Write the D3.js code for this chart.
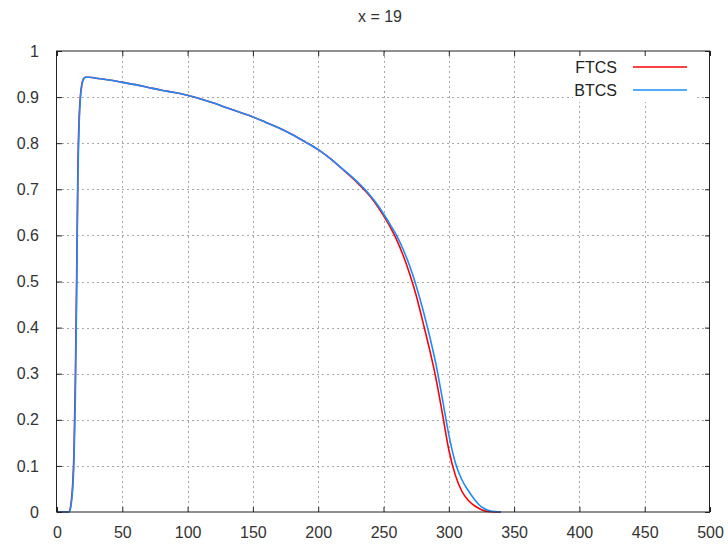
<!DOCTYPE html>
<html>
<head>
<meta charset="utf-8">
<script src="https://cdn.jsdelivr.net/npm/d3@7"></script>
<style>
  html, body { margin: 0; padding: 0; background: #fff; }
  svg { display: block; font-family: "Liberation Sans", Arial, sans-serif; }
</style>
</head>
<body>
<svg id="chart" width="728" height="544"></svg>
<script>
// Temperature profile at x = 19 for the two finite-difference schemes
const xValues = [0, 9, 10, 11, 12, 13, 14, 15, 16, 17, 18, 19, 20, 21, 22, 25, 30, 40, 50,
  60, 70, 80, 90, 100, 110, 120, 130, 140, 150, 160, 170, 180, 190, 200, 210, 220,
  230, 240, 245, 250, 255, 260, 265, 270, 275, 280, 285, 290, 295, 300, 305, 310,
  315, 320, 325, 330, 335, 340];

const ftcsValues = [0, 0, 0.006, 0.025, 0.06, 0.13, 0.28, 0.5, 0.75, 0.86, 0.905, 0.928, 0.938, 0.942, 0.943, 0.943, 0.941, 0.937, 0.932,
  0.927, 0.921, 0.915, 0.910, 0.904, 0.896, 0.887, 0.877, 0.867, 0.857, 0.845, 0.833, 0.819, 0.803, 0.786, 0.765, 0.740,
  0.714, 0.684, 0.665, 0.643, 0.619, 0.591, 0.557, 0.517, 0.470, 0.414, 0.356, 0.292, 0.215, 0.135, 0.080, 0.045,
  0.025, 0.013, 0.005, 0.001, 0, 0];

const btcsValues = [0, 0, 0.004, 0.02, 0.05, 0.11, 0.24, 0.46, 0.72, 0.845, 0.9, 0.925, 0.937, 0.942, 0.943, 0.943, 0.941, 0.937, 0.932,
  0.927, 0.921, 0.915, 0.910, 0.904, 0.896, 0.887, 0.877, 0.867, 0.857, 0.845, 0.833, 0.819, 0.803, 0.786, 0.765, 0.741,
  0.716, 0.686, 0.668, 0.647, 0.624, 0.600, 0.570, 0.534, 0.491, 0.441, 0.385, 0.323, 0.247, 0.168, 0.107, 0.070,
  0.046, 0.026, 0.011, 0.004, 0.001, 0];

const xTicks = [0, 50, 100, 150, 200, 250, 300, 350, 400, 450, 500];
const yTicks = [0, 0.1, 0.2, 0.3, 0.4, 0.5, 0.6, 0.7, 0.8, 0.9, 1];
const yTickLabels = ["0", "0.1", "0.2", "0.3", "0.4", "0.5", "0.6", "0.7", "0.8", "0.9", "1"];

const series = [
  { name: "FTCS", values: ftcsValues, color: "#ff0000" },
  { name: "BTCS", values: btcsValues, color: "#1a8cff" }
];

const svg = d3.select("#chart");
const plotLeft = 57, plotRight = 710, plotTop = 51, plotBottom = 512;

const x = d3.scaleLinear().domain([0, 500]).range([plotLeft, plotRight]);
const y = d3.scaleLinear().domain([0, 1]).range([plotBottom, plotTop]);

// Grid lines (dotted), skipping those that sit on the border
const grid = svg.append("g").attr("stroke", "#a8a8a8").attr("stroke-width", 1)
  .attr("stroke-dasharray", "2,3");
xTicks.filter(t => t > 0 && t < 500).forEach(t => {
  grid.append("line").attr("x1", Math.round(x(t)) + 0.5).attr("x2", Math.round(x(t)) + 0.5)
    .attr("y1", plotTop).attr("y2", plotBottom);
});
yTicks.filter(t => t > 0 && t < 1).forEach(t => {
  grid.append("line").attr("y1", Math.round(y(t)) + 0.5).attr("y2", Math.round(y(t)) + 0.5)
    .attr("x1", plotLeft).attr("x2", plotRight);
});

// Opaque key area
svg.append("rect").attr("x", 573).attr("y", plotTop + 1).attr("width", 124).attr("height", 50)
  .attr("fill", "#fff");

// Curves
const line = d3.line()
  .x((d, i) => x(xValues[i]))
  .y(d => y(d))
  .curve(d3.curveMonotoneX);

svg.append("g").selectAll("path").data(series).join("path")
  .attr("fill", "none")
  .attr("stroke", d => d.color)
  .attr("stroke-width", 1.6)
  .attr("stroke-linejoin", "round")
  .attr("d", d => line(d.values));

// Axes with inward ticks on all four sides
const tickLen = 5;
const bottomAxis = d3.axisBottom(x).tickValues(xTicks).tickSizeInner(-tickLen).tickSizeOuter(0).tickPadding(15);
const topAxis = d3.axisTop(x).tickValues(xTicks).tickSizeInner(-tickLen).tickSizeOuter(0).tickFormat("");
const leftAxis = d3.axisLeft(y).tickValues(yTicks).tickSizeInner(-tickLen).tickSizeOuter(0).tickPadding(18)
  .tickFormat((d, i) => yTickLabels[i]);
const rightAxis = d3.axisRight(y).tickValues(yTicks).tickSizeInner(-tickLen).tickSizeOuter(0).tickFormat("");

function styleAxis(g) {
  g.select(".domain").remove();
  g.selectAll(".tick line").attr("stroke", "#222");
  g.selectAll(".tick text").attr("fill", "#333").attr("font-size", 16)
    .attr("font-family", "'Liberation Sans', Arial, sans-serif");
}

svg.append("g").attr("transform", `translate(0,${plotBottom})`).call(bottomAxis).call(styleAxis);
svg.append("g").attr("transform", `translate(0,${plotTop})`).call(topAxis).call(styleAxis);
svg.append("g").attr("transform", `translate(${plotLeft},0)`).call(leftAxis).call(styleAxis);
svg.append("g").attr("transform", `translate(${plotRight},0)`).call(rightAxis).call(styleAxis);

// Border
svg.append("rect").attr("x", plotLeft - 0.5).attr("y", plotTop).attr("width", plotRight - plotLeft)
  .attr("height", plotBottom - plotTop).attr("fill", "none").attr("stroke", "#222").attr("stroke-width", 1);

// Title
svg.append("text").attr("x", 380).attr("y", 22).attr("text-anchor", "middle")
  .attr("font-size", 16).attr("fill", "#333").text("x = 19");

// Key
const key = svg.append("g");
series.forEach((s, i) => {
  const ky = 67 + i * 23;
  key.append("text").attr("x", 617).attr("y", ky).attr("dy", "0.35em")
    .attr("text-anchor", "end").attr("font-size", 16).attr("fill", "#222").text(s.name);
  key.append("line").attr("x1", 633).attr("x2", 687).attr("y1", ky).attr("y2", ky)
    .attr("stroke", s.color).attr("stroke-width", 1.6);
});
</script>
</body>
</html>
